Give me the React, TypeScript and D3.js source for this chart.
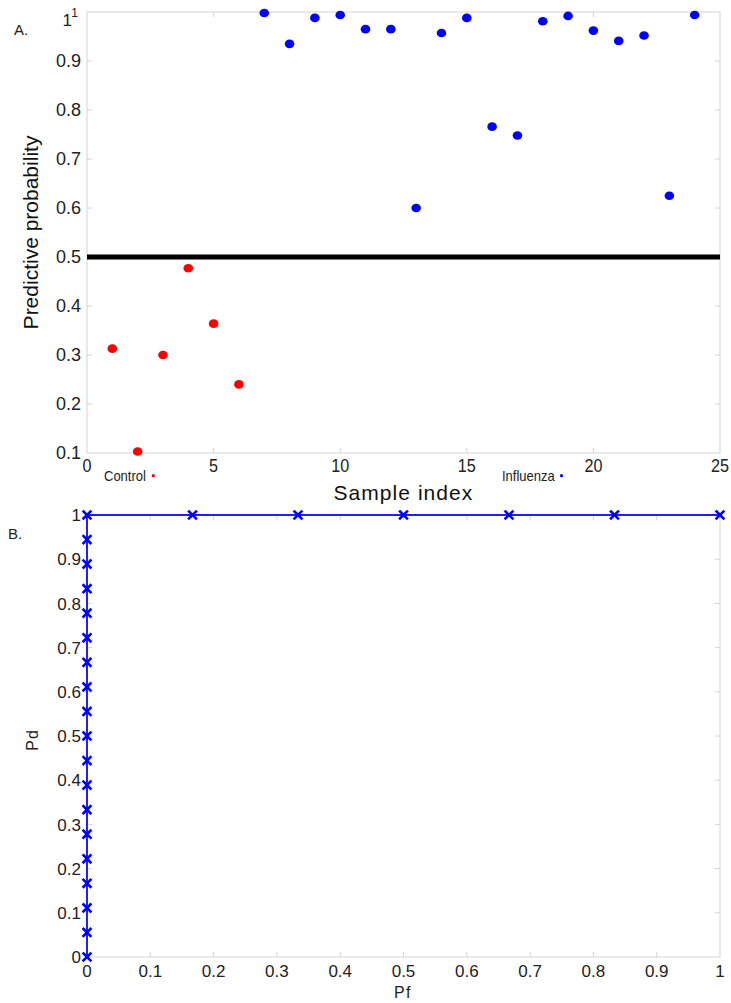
import React from 'react';
import * as d3 from 'd3';

// ---- Panel A data ----
const controlIndex = [1, 2, 3, 4, 5, 6];
const controlProb = [0.313, 0.103, 0.3, 0.477, 0.364, 0.24];
const influenzaIndex = [7, 8, 9, 10, 11, 12, 13, 14, 15, 16, 17, 18, 19, 20, 21, 22, 23, 24];
const influenzaProb = [0.998, 0.935, 0.988, 0.994, 0.965, 0.965, 0.6, 0.957, 0.988, 0.766, 0.748, 0.981, 0.992, 0.962, 0.941, 0.952, 0.625, 0.994];
const threshold = 0.5;
const xTicksA = [0, 5, 10, 15, 20, 25];
const yTicksA = [0.1, 0.2, 0.3, 0.4, 0.5, 0.6, 0.7, 0.8, 0.9];

// ---- Panel B data (ROC) ----
const rocPf = [0, 0, 0, 0, 0, 0, 0, 0, 0, 0, 0, 0, 0, 0, 0, 0, 0, 0, 0, 0.1667, 0.3333, 0.5, 0.6667, 0.8333, 1];
const rocPd = [0, 0.0556, 0.1111, 0.1667, 0.2222, 0.2778, 0.3333, 0.3889, 0.4444, 0.5, 0.5556, 0.6111, 0.6667, 0.7222, 0.7778, 0.8333, 0.8889, 0.9444, 1, 1, 1, 1, 1, 1, 1];
const ticksB = [0, 0.1, 0.2, 0.3, 0.4, 0.5, 0.6, 0.7, 0.8, 0.9, 1];

const FONT = 'Liberation Sans, Arial, sans-serif';
const GRID = '#d4d4d4';

export default function App() {
  const xA = d3.scaleLinear().domain([0, 25]).range([87, 720]);
  const yA = d3.scaleLinear().domain([0.1, 1]).range([453, 12]);
  const xB = d3.scaleLinear().domain([0, 1]).range([87, 720]);
  const yB = d3.scaleLinear().domain([0, 1]).range([957, 515]);

  const rocLine = d3.line<number>()
    .x((d, i) => xB(rocPf[i]))
    .y((d) => yB(d))(rocPd) as string;

  const tl = 5;
  return (
    <svg width={731} height={1003} style={{ position: 'absolute', left: 0, top: 0, background: '#fff' }} fontFamily={FONT}>
      <rect x={0} y={0} width={731} height={1003} fill="#fff" />
      {/* ===== Panel A ===== */}
      <text x={14} y={35} fontSize={15} fill="#222">A.</text>
      <rect x={xA(0)} y={yA(1)} width={xA(25) - xA(0)} height={yA(0.1) - yA(1)} fill="none" stroke={GRID} strokeWidth={1} />
      {xTicksA.slice(1, -1).map((t) => (
        <g key={'xa' + t}>
          <line x1={xA(t)} x2={xA(t)} y1={yA(0.1)} y2={yA(0.1) - tl} stroke={GRID} />
          <line x1={xA(t)} x2={xA(t)} y1={yA(1)} y2={yA(1) + tl} stroke={GRID} />
        </g>
      ))}
      {yTicksA.slice(1).map((t) => (
        <g key={'ya' + t}>
          <line x1={xA(0)} x2={xA(0) + tl} y1={yA(t)} y2={yA(t)} stroke={GRID} />
          <line x1={xA(25)} x2={xA(25) - tl} y1={yA(t)} y2={yA(t)} stroke={GRID} />
        </g>
      ))}
      {xTicksA.map((t) => (
        <text key={'xal' + t} transform={`translate(${xA(t)},${472}) scale(0.85,1)`} textAnchor="middle" fontSize={19} fill="#222">{t}</text>
      ))}
      {yTicksA.map((t) => (
        <text key={'yal' + t} x={81} y={yA(t)} dy="0.36em" textAnchor="end" fontSize={18} fill="#222">{d3.format('.1f')(t)}</text>
      ))}
      <text x={72} y={26} textAnchor="end" fontSize={17} fill="#222">1</text>
      <text x={78} y={17} textAnchor="end" fontSize={12} fill="#222">1</text>
      <line x1={xA(0)} x2={xA(25)} y1={yA(threshold)} y2={yA(threshold)} stroke="#000" strokeWidth={5} />
      {controlIndex.map((d, i) => (
        <ellipse key={'c' + i} cx={xA(d)} cy={yA(controlProb[i])} rx={4.8} ry={4.3} fill="#ff0000" />
      ))}
      {influenzaIndex.map((d, i) => (
        <ellipse key={'f' + i} cx={xA(d)} cy={yA(influenzaProb[i])} rx={4.8} ry={4.3} fill="#0000ff" />
      ))}
      <text transform="translate(104,480.5) scale(0.93,1)" fontSize={14} fill="#222">Control</text>
      <circle cx={153.3} cy={475.7} r={1.6} fill="#ff0000" />
      <text transform="translate(502,480.5) scale(0.93,1)" fontSize={14} fill="#222">Influenza</text>
      <circle cx={561.5} cy={475.7} r={1.6} fill="#0000ff" />
      <text x={333.5} y={500} fontSize={21} fill="#111" letterSpacing={1.2} textLength={140} lengthAdjust="spacing" fontWeight={400}>Sample index</text>
      <text transform={`translate(38,${(yA(1) + yA(0.1)) / 2}) rotate(-90)`} textAnchor="middle" fontSize={21} fill="#111">Predictive probability</text>

      {/* ===== Panel B ===== */}
      <text x={8} y={539} fontSize={15} fill="#222">B.</text>
      <rect x={xB(0)} y={yB(1)} width={xB(1) - xB(0)} height={yB(0) - yB(1)} fill="none" stroke={GRID} strokeWidth={1} />
      {ticksB.slice(1, -1).map((t) => (
        <g key={'tb' + t}>
          <line x1={xB(t)} x2={xB(t)} y1={yB(0)} y2={yB(0) - tl} stroke={GRID} />
          <line x1={xB(t)} x2={xB(t)} y1={yB(1)} y2={yB(1) + tl} stroke={GRID} />
          <line x1={xB(0)} x2={xB(0) + tl} y1={yB(t)} y2={yB(t)} stroke={GRID} />
          <line x1={xB(1)} x2={xB(1) - tl} y1={yB(t)} y2={yB(t)} stroke={GRID} />
        </g>
      ))}
      {ticksB.map((t) => (
        <text key={'xbl' + t} x={xB(t)} y={977} textAnchor="middle" fontSize={17} fill="#222">{t === 0 || t === 1 ? String(t) : d3.format('.1f')(t)}</text>
      ))}
      {ticksB.map((t) => (
        <text key={'ybl' + t} x={81} y={yB(t)} dy="0.36em" textAnchor="end" fontSize={17} fill="#222">{t === 0 || t === 1 ? String(t) : d3.format('.1f')(t)}</text>
      ))}
      <path d={rocLine} fill="none" stroke="#1f1fff" strokeWidth={2} />
      {rocPd.map((d, i) => {
        const cx = xB(rocPf[i]);
        const cy = yB(d);
        const s = 3.5;
        return (
          <g key={'m' + i} stroke="#0000ff" strokeWidth={2.6} strokeLinecap="square">
            <line x1={cx - s} y1={cy - s} x2={cx + s} y2={cy + s} />
            <line x1={cx - s} y1={cy + s} x2={cx + s} y2={cy - s} />
          </g>
        );
      })}
      <text x={403} y={998} textAnchor="middle" fontSize={16} letterSpacing={1.5} fill="#222">Pf</text>
      <text transform={`translate(38,740) rotate(-90)`} textAnchor="middle" fontSize={16} letterSpacing={1} fill="#222">Pd</text>
    </svg>
  );
}
